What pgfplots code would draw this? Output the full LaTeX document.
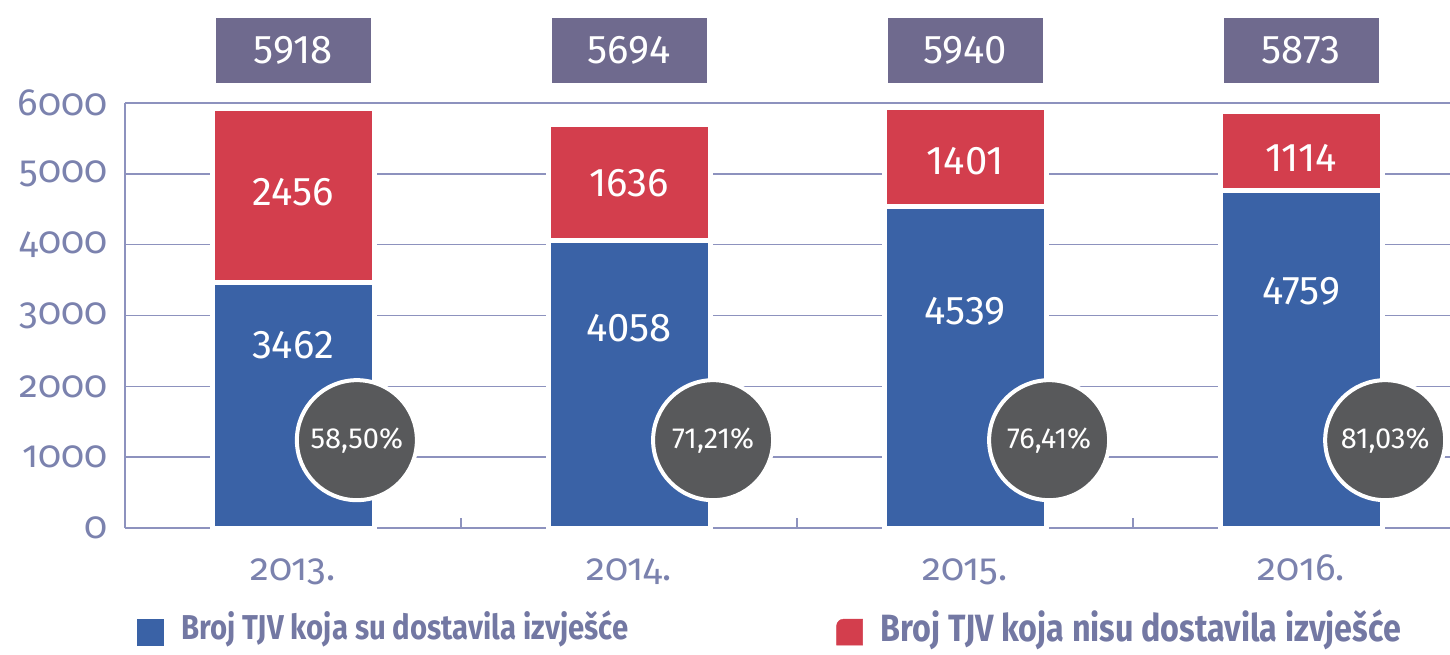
\documentclass[border=0pt]{standalone}
\usepackage{pgfplots}
\pgfplotsset{compat=1.18}
\usepackage{fontspec}
\setmainfont{Fira Sans}
\newfontfamily\oldnum{Fira Sans}[Numbers=OldStyle]
\newfontfamily\legfont{Fira Sans}[FakeStretch=0.85]
\definecolor{bluec}{HTML}{3A62A6}
\definecolor{redc}{HTML}{D33E4D}
\definecolor{boxc}{HTML}{6F6A8E}
\definecolor{circc}{HTML}{58595B}
\definecolor{tickc}{HTML}{7B82AE}
\definecolor{gridc}{HTML}{8D92BE}
\definecolor{legc}{HTML}{7378A3}
\begin{document}
\begin{tikzpicture}
\begin{axis}[
  scale only axis, width=1325pt, height=425pt,
  xmin=-0.5, xmax=3.443, ymin=0, ymax=6000,
  clip=false,
  axis lines*=left,
  axis line style={gridc, line width=1.5pt},
  ytick={0,1000,...,6000},
  /pgf/number format/assume math mode=true,
  /pgf/number format/1000 sep={},
  ymajorgrids, grid style={gridc, line width=1.5pt},
  xtick={0,1,2,3}, xticklabels={2013.,2014.,2015.,2016.},
  major tick length=0pt,
  extra x ticks={0.5,1.5,2.5}, extra x tick labels={},
  extra x tick style={major tick length=10pt, tick align=inside, grid=none, tick style={gridc, line width=1.5pt}},
  tick label style={font=\fontsize{38}{40}\selectfont\oldnum, text=tickc},
  yticklabel style={xshift=-14pt},
  xticklabel style={anchor=base, yshift=-52pt},
  legend style={draw=none, fill=none, at={(0.009,-0.276)}, anchor=south west,
    inner sep=0pt, outer sep=0pt, legend columns=2,
    font=\legfont\bfseries, text=legc,
    /tikz/every odd column/.append style={column sep=18pt},
    /tikz/every even column/.append style={column sep=208pt},
    nodes={inner sep=0pt}},
]
\addlegendimage{legend image code/.code={\fill[bluec] (0pt,-19pt) rectangle (26pt,7pt);}}
\addlegendentry{\fontsize{34.5}{36}\selectfont Broj TJV koja su dostavila izvješće}
\addlegendimage{legend image code/.code={\fill[redc] (0pt,-19pt) -- (0pt,0pt) arc[start angle=180, end angle=90, radius=7pt] -- (26pt,7pt) -- (26pt,-19pt) -- cycle;}}
\addlegendentry{\fontsize{38}{40}\selectfont Broj TJV koja nisu dostavila izvješće}
% totals (red + blue) drawn first, blue on top
\addplot[forget plot, ybar, bar width=162pt, bar shift=0pt, fill=redc, draw=white, line width=5pt]
  coordinates {(0,5918) (1,5694) (2,5940) (3,5873)};
\addplot[forget plot, ybar, bar width=162pt, bar shift=0pt, fill=bluec, draw=white, line width=5pt]
  coordinates {(0,3462) (1,4058) (2,4539) (3,4759)};
% blue labels
\addplot[forget plot, draw=none, nodes near coords, point meta=explicit symbolic,
  every node near coord/.append style={anchor=center, text=white, font=\fontsize{40}{42}\selectfont}]
  coordinates {(0,2584)[3462] (1,2824)[4058] (2,3064)[4539] (3,3346)[4759]};
% red labels
\addplot[forget plot, draw=none, nodes near coords, point meta=explicit symbolic,
  every node near coord/.append style={anchor=center, text=white, font=\fontsize{40}{42}\selectfont}]
  coordinates {(0,4744)[2456] (1,4871)[1636] (2,5181)[1401] (3,5224)[1114]};
% totals boxes
\addplot[forget plot, draw=none, nodes near coords, point meta=explicit symbolic,
  every node near coord/.append style={anchor=center, text=white, fill=boxc, minimum width=155pt, minimum height=65pt, inner sep=0pt, font=\fontsize{40}{42}\selectfont}]
  coordinates {(0,6741)[5918] (1,6741)[5694] (2,6741)[5940] (3,6741)[5873]};
% percentage circles
\addplot[forget plot, only marks, mark=*, mark size=60pt, mark options={fill=circc, draw=white, line width=4pt},
  nodes near coords, point meta=explicit symbolic,
  every node near coord/.append style={anchor=center, text=white, font=\fontsize{29}{31}\selectfont}]
  coordinates {(0.19,1240)[58,50\%] (1.25,1240)[71,21\%] (2.25,1240)[76,41\%] (3.25,1240)[81,03\%]};
\coordinate (BL) at (rel axis cs:0,0);
\end{axis}
\pgfresetboundingbox
\path (BL) ++(-125pt,-126pt) rectangle ++(1450pt,654pt);
\end{tikzpicture}
\end{document}
